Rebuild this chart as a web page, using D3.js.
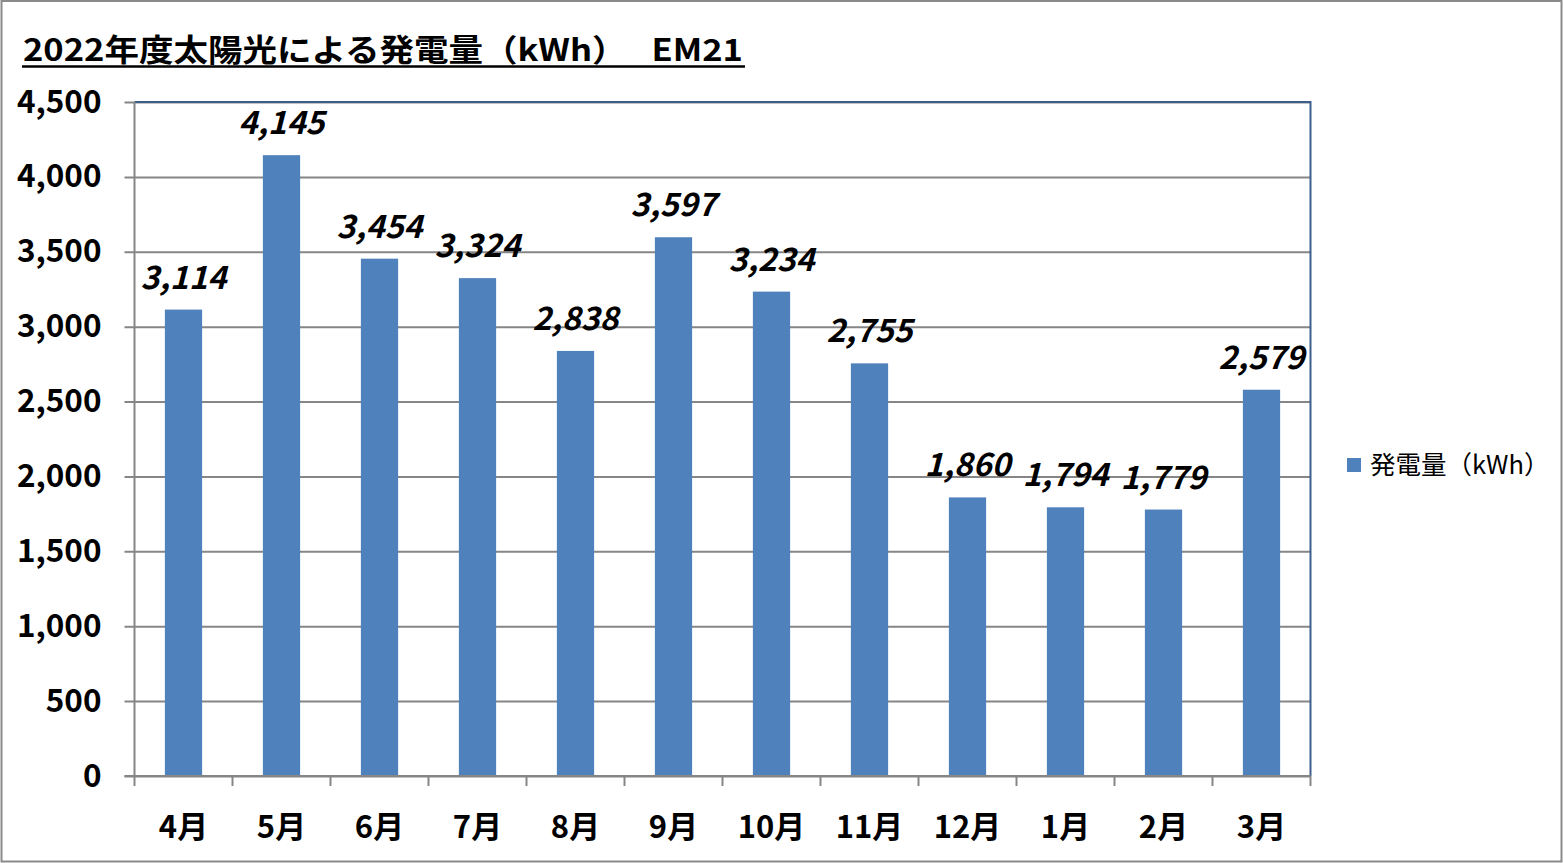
<!DOCTYPE html>
<html>
<head>
<meta charset="utf-8">
<script src="https://cdn.jsdelivr.net/npm/d3@7"></script>
<style>
  html, body { margin: 0; padding: 0; background: #fff; }
  svg { display: block; }
  text { font-family: "Noto Sans CJK JP", "Noto Sans", sans-serif; }
</style>
</head>
<body>
<div id="chart"></div>
<script>
const width = 1563;
const height = 863;

// Data ////////////////////////////////////////////
const months = ["4月", "5月", "6月", "7月", "8月", "9月", "10月", "11月", "12月", "1月", "2月", "3月"];
const output = [3114, 4145, 3454, 3324, 2838, 3597, 3234, 2755, 1860, 1794, 1779, 2579];
const yTicks = [0, 500, 1000, 1500, 2000, 2500, 3000, 3500, 4000, 4500];
const seriesName = "発電量（kWh）";
const titleText = "2022年度太陽光による発電量（kWh）\u3000 EM21";

// Colors //////////////////////////////////////////
const barColor = "#4f81bd";
const gridColor = "#868686";
const borderColor = "#3d5f8b";

// Plot area
const plot = { left: 134.5, right: 1310.5, top: 102, bottom: 776 };

const svg = d3.select("#chart")
  .append("svg")
  .attr("width", width)
  .attr("height", height);

// outer chart frame
svg.append("rect")
  .attr("x", 1.5).attr("y", 1)
  .attr("width", width - 3).attr("height", height - 2.5)
  .attr("fill", "#fff")
  .attr("stroke", "#8a8a8a")
  .attr("stroke-width", 2);

// Scales ///////////////////////////////////////////
const x = d3.scaleBand()
  .domain(months)
  .range([plot.left, plot.right])
  .paddingInner(0.62)
  .paddingOuter(0.31);

const y = d3.scaleLinear()
  .domain([0, 4500])
  .range([plot.bottom, plot.top]);

const step = x.step();

// gridlines + y ticks
const yAxis = d3.axisLeft(y)
  .tickValues(yTicks)
  .tickSize(-(plot.right - plot.left))
  .tickSizeOuter(0)
  .tickPadding(22)
  .tickFormat(d3.format(","));

const gy = svg.append("g")
  .attr("transform", `translate(${plot.left},0)`)
  .call(yAxis);
gy.select(".domain").remove();
gy.selectAll(".tick line")
  .attr("x1", -10)
  .attr("stroke", gridColor)
  .attr("stroke-width", 2);
gy.selectAll(".tick text")
  .attr("x", -33)
  .attr("font-size", 31.5)
  .attr("font-weight", "bold")
  .attr("fill", "#000");

// top and right border of plot area
svg.append("path")
  .attr("d", `M${plot.left},${plot.top}H${plot.right}V${plot.bottom}`)
  .attr("fill", "none")
  .attr("stroke", borderColor)
  .attr("stroke-width", 2);

// left axis line
svg.append("line")
  .attr("x1", plot.left).attr("x2", plot.left)
  .attr("y1", plot.top).attr("y2", plot.bottom)
  .attr("stroke", gridColor)
  .attr("stroke-width", 2);

// Bars ////////////////////////////////////////////
svg.append("g")
  .selectAll("rect")
  .data(output)
  .join("rect")
  .attr("x", (d, i) => x(months[i]))
  .attr("y", d => y(d))
  .attr("width", x.bandwidth())
  .attr("height", d => y(0) - y(d))
  .attr("fill", barColor);

// bottom axis line + category boundary ticks
svg.append("line")
  .attr("x1", plot.left - 10).attr("x2", plot.right)
  .attr("y1", plot.bottom).attr("y2", plot.bottom)
  .attr("stroke", gridColor)
  .attr("stroke-width", 2);

svg.append("g")
  .selectAll("line")
  .data(d3.range(months.length + 1))
  .join("line")
  .attr("x1", i => plot.left + i * step)
  .attr("x2", i => plot.left + i * step)
  .attr("y1", plot.bottom)
  .attr("y2", plot.bottom + 10)
  .attr("stroke", gridColor)
  .attr("stroke-width", 2);

// category labels
svg.append("g")
  .selectAll("text")
  .data(months)
  .join("text")
  .attr("x", d => x(d) + x.bandwidth() / 2)
  .attr("y", 838)
  .attr("text-anchor", "middle")
  .attr("font-size", 31)
  .attr("font-weight", "bold")
  .attr("fill", "#000")
  .text(d => d);

// data labels
svg.append("g")
  .selectAll("text")
  .data(output)
  .join("text")
  .attr("x", (d, i) => x(months[i]) + x.bandwidth() / 2)
  .attr("y", d => y(d) - 21)
  .attr("text-anchor", "middle")
  .attr("font-size", 32)
  .attr("font-weight", "bold")
  .attr("font-style", "italic")
  .attr("fill", "#000")
  .text(d => d3.format(",")(d));

// Title ///////////////////////////////////////////
svg.append("text")
  .attr("x", 23)
  .attr("y", 61)
  .attr("font-size", 31)
  .attr("font-weight", "bold")
  .attr("fill", "#000")
  .attr("textLength", 720)
  .attr("lengthAdjust", "spacingAndGlyphs")
  .text(titleText);

svg.append("line")
  .attr("x1", 22).attr("x2", 745)
  .attr("y1", 66.5).attr("y2", 66.5)
  .attr("stroke", "#000")
  .attr("stroke-width", 2.5);

// Legend //////////////////////////////////////////
const legend = svg.append("g").attr("transform", "translate(1347,458)");
legend.append("rect")
  .attr("width", 14).attr("height", 14)
  .attr("fill", barColor);
legend.append("text")
  .attr("x", 23)
  .attr("y", 7)
  .attr("dy", "0.36em")
  .attr("font-size", 25.5)
  .attr("fill", "#000")
  .text(seriesName);
</script>
</body>
</html>
